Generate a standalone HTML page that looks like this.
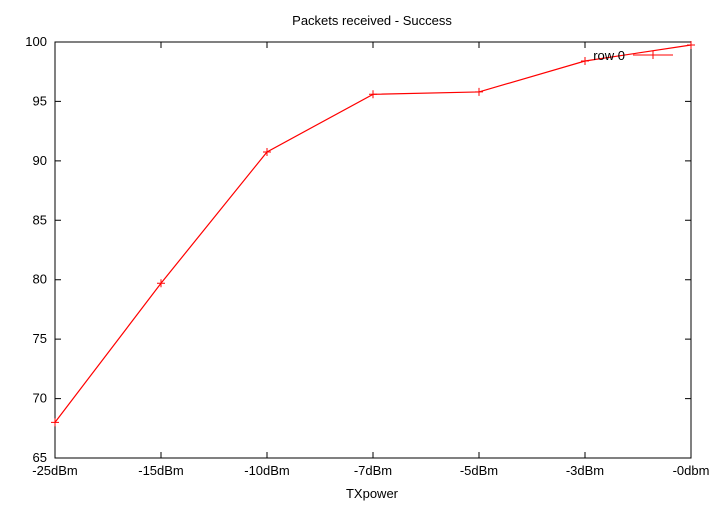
<!DOCTYPE html>
<html><head><meta charset="utf-8"><style>
body{margin:0;background:#fff}
svg text{font-family:"Liberation Sans",sans-serif;font-size:13px;fill:#000}
</style></head><body>
<svg width="720" height="504">
<text x="372" y="25" text-anchor="middle">Packets received - Success</text>
<g id="axes"></g>
<text x="372" y="498" text-anchor="middle">TXpower</text>
<g id="series"></g>
<g>
<text x="625" y="60" text-anchor="end">row 0</text>
<line x1="633" y1="55" x2="673" y2="55" stroke="#f00"/>
<path d="M649,55h8M653,51v8" stroke="#f00"/>
</g>
</svg>
<script>
const categories=["-25dBm","-15dBm","-10dBm","-7dBm","-5dBm","-3dBm","-0dbm"];
const values=[68.0,79.7,90.75,95.6,95.8,98.4,99.75];
const yTicks=[65,70,75,80,85,90,95,100];
const L=55,R=691,T=42,B=458,ymin=65,ymax=100;
const NS="http://www.w3.org/2000/svg";
const xs=i=>L+i*(R-L)/(categories.length-1);
const ys=v=>B-(v-ymin)/(ymax-ymin)*(B-T);
function mk(tag,attrs,parent){const e=document.createElementNS(NS,tag);for(const k in attrs)e.setAttribute(k,attrs[k]);parent.appendChild(e);return e;}
const ax=document.getElementById('axes');
const frame=mk('rect',{x:L,y:T,width:R-L,height:B-T,fill:'none',stroke:'#000'},ax);


yTicks.forEach(v=>{
 const y=ys(v);
 const t=mk('path',{d:`M${L},${y}h6M${R},${y}h-6`,stroke:'#000'},ax);
 
 
 const tx=mk('text',{x:L-8,y:y+4,'text-anchor':'end'},ax);tx.textContent=v;
 
 
});
categories.forEach((c,i)=>{
 const x=xs(i);
 const t=mk('path',{d:`M${x},${B}v-6M${x},${T}v6`,stroke:'#000'},ax);
 
 
 const tx=mk('text',{x:x,y:B+17,'text-anchor':'middle'},ax);tx.textContent=c;
 
 
});
const s=document.getElementById('series');
const pl=mk('polyline',{points:values.map((v,i)=>xs(i)+','+ys(v)).join(' '),fill:'none',stroke:'#f00','stroke-width':1.2},s);


values.forEach((v,i)=>{
 const x=xs(i),y=ys(v);
 const p=mk('path',{d:`M${x-4},${y}h8M${x},${y-4}v8`,stroke:'#f00'},s);
 
 
});
</script>
</body></html>
